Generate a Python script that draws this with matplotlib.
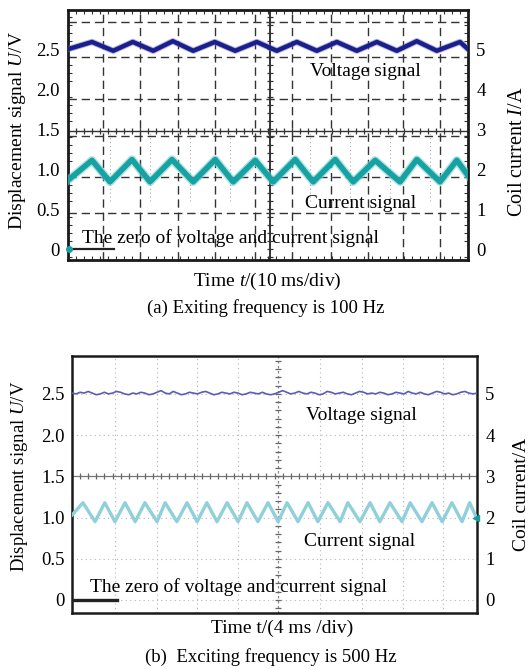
import numpy as np
import matplotlib
matplotlib.use('Agg')
from matplotlib import pyplot as plt
from matplotlib.ticker import MultipleLocator

plt.rcParams['font.family'] = ['Liberation Serif', 'DejaVu Serif']
plt.rcParams['mathtext.fontset'] = 'custom'
plt.rcParams['mathtext.rm'] = 'Liberation Serif'
plt.rcParams['mathtext.it'] = 'Liberation Serif:italic'

# ---- data read off the two oscilloscope screens (x in divisions) ----
# (a) 100 Hz, 10 ms/div : turning points of the traces
volt_a_t = [0, 0.6, 1.13, 1.62, 2.13, 2.62, 3.13, 3.67, 4.18, 4.72, 5.22,
            5.72, 6.22, 6.72, 7.22, 7.72, 8.22, 8.72, 9.22, 9.8, 10.0]
volt_a_v = [2.50, 2.59, 2.48, 2.59, 2.48, 2.60, 2.48, 2.59, 2.48, 2.59, 2.48,
            2.59, 2.48, 2.59, 2.48, 2.59, 2.48, 2.60, 2.48, 2.59, 2.50]
cur_a_t = [0, 0.6, 1.05, 1.6, 2.05, 2.6, 3.13, 3.68, 4.13, 4.68, 5.13,
           5.68, 6.13, 6.68, 7.13, 7.68, 8.3, 8.72, 9.3, 9.72, 10.0]
cur_a_v = [0.86, 1.11, 0.84, 1.12, 0.84, 1.12, 0.84, 1.12, 0.84, 1.11, 0.84,
           1.12, 0.84, 1.12, 0.84, 1.11, 0.84, 1.12, 0.84, 1.11, 0.92]

# (b) 500 Hz, 4 ms/div
volt_b_t = np.linspace(0, 10, 101)
volt_b_v = [2.51, 2.50, 2.52, 2.51, 2.53, 2.51, 2.49, 2.50, 2.52, 2.50,
            2.51, 2.53, 2.52, 2.50, 2.49, 2.51, 2.50, 2.52, 2.51, 2.49,
            2.50, 2.52, 2.54, 2.51, 2.50, 2.53, 2.51, 2.49, 2.50, 2.52,
            2.51, 2.50, 2.52, 2.53, 2.51, 2.49, 2.50, 2.52, 2.51, 2.50,
            2.52, 2.51, 2.49, 2.50, 2.52, 2.51, 2.50, 2.52, 2.50, 2.49,
            2.50, 2.52, 2.54, 2.52, 2.50, 2.51, 2.53, 2.51, 2.50, 2.52,
            2.51, 2.49, 2.50, 2.53, 2.52, 2.50, 2.51, 2.52, 2.50, 2.49,
            2.51, 2.53, 2.52, 2.50, 2.51, 2.50, 2.52, 2.51, 2.49, 2.50,
            2.52, 2.51, 2.50, 2.53, 2.51, 2.50, 2.52, 2.50, 2.49, 2.51,
            2.53, 2.52, 2.50, 2.51, 2.49, 2.50, 2.52, 2.53, 2.51, 2.50,
            2.51]
cur_b_t = [0, 0.27, 0.57, 0.81, 1.06, 1.31, 1.56, 1.80, 2.10, 2.30, 2.59,
           2.84, 3.09, 3.33, 3.58, 3.83, 4.10, 4.32, 4.59, 4.84, 5.09, 5.31,
           5.58, 5.83, 6.07, 6.32, 6.62, 6.81, 7.11, 7.36, 7.60, 7.85, 8.15,
           8.35, 8.64, 8.89, 9.14, 9.38, 9.63, 9.82, 10.0]
cur_b_v = [1.03, 1.18, 0.95, 1.18, 0.95, 1.18, 0.95, 1.18, 0.95, 1.18, 0.95,
           1.18, 0.95, 1.18, 0.95, 1.18, 0.95, 1.18, 0.95, 1.18, 0.95, 1.18,
           0.95, 1.18, 0.95, 1.18, 0.95, 1.18, 0.95, 1.18, 0.95, 1.18, 0.95,
           1.18, 0.95, 1.18, 0.95, 1.18, 0.95, 1.18, 0.98]

left_ticks = [0, 0.5, 1.0, 1.5, 2.0, 2.5]
left_labels = ['0', '0.5', '1.0', '1.5', '2.0', '2.5']
right_labels = ['0', '1', '2', '3', '4', '5']

# screen grid of each picture
grid_a_x = [0.875, 1.8, 2.75, 3.675, 4.675, 5.6, 6.575, 7.5, 8.375, 9.3]
grid_a_y = [0.45, 0.9, 1.41, 1.875, 2.40, 2.84]
grid_b_x = [1.06, 2.1, 3.09, 4.1, 6.12, 7.16, 8.17, 9.16]
grid_b_y = [0, 0.5, 1.0, 2.0, 2.5]

W, H = 531, 669
fig = plt.figure(figsize=(W / 100, H / 100), dpi=100)


def px(x, y):
    return x / W, 1 - y / H


def setup(ax, ylo, yhi, spine_w, tickpad_l, tickpad_r):
    ax.set_xlim(0, 10)
    ax.set_ylim(ylo, yhi)
    ax.set_xticks([])
    ax.set_yticks(left_ticks)
    ax.set_yticklabels(left_labels, fontsize=13.5)
    ax.tick_params(axis='y', length=0, pad=tickpad_l)
    for s in ax.spines.values():
        s.set_linewidth(spine_w)
        s.set_color('#1a1a1a')
    ax2 = ax.twinx()
    ax2.set_ylim(2 * ylo, 2 * yhi)
    ax2.set_yticks([2 * v for v in left_ticks])
    ax2.set_yticklabels(right_labels, fontsize=13.5)
    ax2.tick_params(axis='y', length=0, pad=tickpad_r)
    for s in ax2.spines.values():
        s.set_visible(False)
    return ax2


def cross_marks(ax, xc, yc, ylo, yhi, size, col):
    xs = np.arange(0, 10.01, 0.2)
    ax.plot(xs, np.full_like(xs, yc), ls='none', marker='|',
            ms=size, mew=0.9, color=col, zorder=1)
    ys = np.arange(ylo, yhi, 0.1)
    ax.plot(np.full_like(ys, xc), ys, ls='none', marker='_',
            ms=size, mew=0.9, color=col, zorder=1)


# ================= (a) =================
ax = fig.add_axes([68 / W, 1 - 260 / H, 400 / W, 250 / H])
setup(ax, -0.1375, 2.99, 2.0, 6, 6)
ax.xaxis.set_minor_locator(MultipleLocator(0.2))
ax.yaxis.set_minor_locator(MultipleLocator(0.1))
ax.tick_params(which='minor', direction='in', length=3, width=0.8,
               left=True, right=True, top=True, bottom=True, color='#333333')

for gx in grid_a_x:
    ax.axvline(gx, color='#333333', lw=1.0, ls=(0, (6, 3.5)), zorder=1)
for gy in grid_a_y:
    ax.axhline(gy, color='#333333', lw=1.0, ls=(0, (6, 3.5)), zorder=1)
for gx in [1.05, 2.05, 3.05, 4.05, 6.05, 7.05, 8.05, 9.05]:
    ax.plot([gx, gx], [0.6, 1.45], color='#aaaaaa', lw=0.8, ls=(0, (1, 2.5)), zorder=1)
# centre cross with sub-division marks
ax.axhline(1.48, color='#333333', lw=1.0, zorder=1)
ax.axvline(5.05, color='#333333', lw=1.4, zorder=1)
cross_marks(ax, 5.05, 1.48, -0.1, 2.95, 5, '#333333')

ax.plot(volt_a_t, volt_a_v, color='#6f72c4', lw=4.6, alpha=0.5,
        solid_joinstyle='round', zorder=3)
ax.plot(volt_a_t, volt_a_v, color='#1b1f8c', lw=3.2,
        solid_joinstyle='round', zorder=4)
ax.plot(cur_a_t, cur_a_v, color='#7fd0d0', lw=6.0, alpha=0.6,
        solid_joinstyle='round', zorder=3)
ax.plot(cur_a_t, cur_a_v, color='#16a2a2', lw=4.0,
        solid_joinstyle='round', zorder=4)
ax.plot([0, 1.15], [0, 0], color='#222222', lw=1.6, zorder=4)
ax.plot([0.02], [0.0], marker='o', ms=4, color='#16a2a2', zorder=5, clip_on=False)

fig.text(*px(365, 72), 'Voltage signal', fontsize=14, ha='center', va='center')
fig.text(*px(361, 203), 'Current signal', fontsize=14, ha='center', va='center')
fig.text(*px(82, 238), 'The zero of voltage and current signal', fontsize=14,
         ha='left', va='center')
fig.text(*px(18, 131), 'Displacement signal $U$/V', fontsize=14, rotation=90,
         ha='center', va='center')
fig.text(*px(517, 152), 'Coil current $I$/A', fontsize=14.5, rotation=90,
         ha='center', va='center')
fig.text(*px(267, 281), 'Time $t$/(10 ms/div)', fontsize=14, ha='center', va='center')
fig.text(*px(266, 308), '(a) Exiting frequency is 100 Hz', fontsize=13.5,
         ha='center', va='center')

# ================= (b) =================
bx = fig.add_axes([72 / W, 1 - 613 / H, 405 / W, 257 / H])
setup(bx, -0.158, 2.96, 1.8, 5, 6)

for gx in grid_b_x:
    bx.axvline(gx, color='#b5b5b5', lw=0.8, ls=(0, (1, 3)), zorder=1)
for gy in grid_b_y:
    bx.axhline(gy, color='#b5b5b5', lw=0.8, ls=(0, (1, 3)), zorder=1)
bx.axhline(1.5, color='#777777', lw=0.9, zorder=1)
bx.axvline(5.09, color='#888888', lw=0.9, ls=(0, (2, 2)), zorder=1)
cross_marks(bx, 5.09, 1.5, -0.1, 2.95, 4, '#666666')

bx.plot(volt_b_t, volt_b_v, color='#5a5cb8', lw=1.2, zorder=4)
bx.plot(cur_b_t, cur_b_v, color='#8fd0da', lw=2.4, solid_joinstyle='round', zorder=4)
bx.plot([9.97], [1.0], marker='<', ms=5, color='#1a9a9a', zorder=5, clip_on=False)
bx.plot([0, 1.1], [0, 0], color='#222222', lw=2.4, zorder=4)

fig.text(*px(361, 415), 'Voltage signal', fontsize=14, ha='center', va='center')
fig.text(*px(360, 542), 'Current signal', fontsize=14, ha='center', va='center')
fig.text(*px(90, 587), 'The zero of voltage and current signal', fontsize=14,
         ha='left', va='center')
fig.text(*px(20, 476), 'Displacement signal $U$/V', fontsize=13.5, rotation=90,
         ha='center', va='center')
fig.text(*px(522, 494), 'Coil current/A', fontsize=14, rotation=90,
         ha='center', va='center')
fig.text(*px(282, 628), 'Time t/(4 ms /div)', fontsize=14, ha='center', va='center')
fig.text(*px(271, 657), '(b)  Exciting frequency is 500 Hz', fontsize=13.5,
         ha='center', va='center')

fig.savefig('out.png', dpi=100)
